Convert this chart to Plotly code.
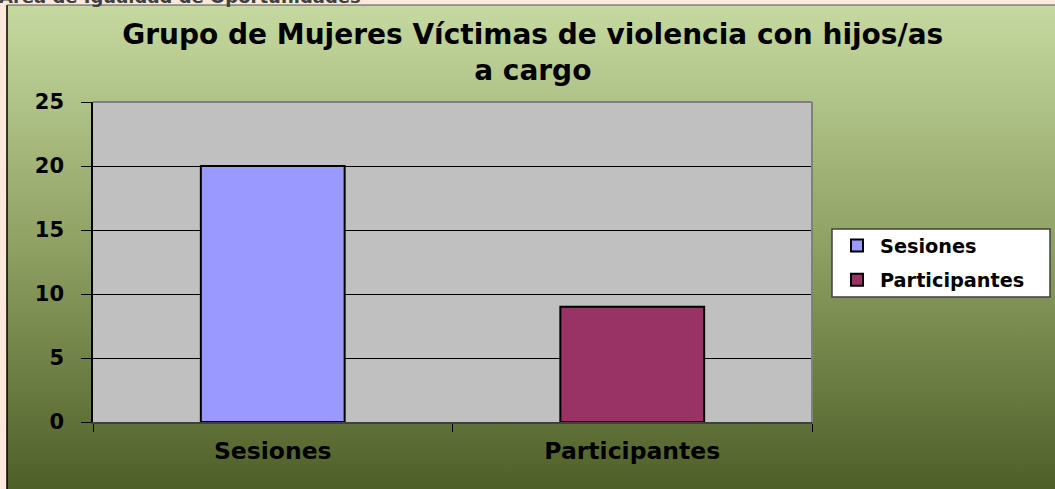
import base64
import plotly.graph_objects as go

# ---- data ----
categories = ["Sesiones", "Participantes"]
series_names = ["Sesiones", "Participantes"]
series_values = [20, 9]
series_colors = ["#9999FF", "#993366"]
y_tick_vals = [0, 5, 10, 15, 20, 25]

title_text = "Grupo de Mujeres Víctimas de violencia con hijos/as<br>a cargo"
header_text = "Área de Igualdad de Oportunidades"

W, H = 1055, 489
ML, MR, MT, MB = 93, 243, 102, 67
PW = W - ML - MR
PH = H - MT - MB

FONT = "DejaVu Sans"

# gradient background image (svg)
svg = (
    '<svg xmlns="http://www.w3.org/2000/svg" width="100" height="100" preserveAspectRatio="none">'
    '<defs><linearGradient id="g" x1="0" y1="0" x2="0" y2="1">'
    '<stop offset="0" stop-color="#C6D9A0"/>'
    '<stop offset="0.5" stop-color="#8EA062"/>'
    '<stop offset="1" stop-color="#4E6028"/>'
    '</linearGradient></defs>'
    '<rect x="0" y="0" width="100" height="100" fill="url(#g)"/></svg>'
)
svg_uri = "data:image/svg+xml;base64," + base64.b64encode(svg.encode()).decode()

def px_x(px):
    return (px - ML) / PW

def px_y(py):
    return (H - MB - py) / PH

fig = go.Figure()
for name, cat, val, col in zip(series_names, categories, series_values, series_colors):
    fig.add_trace(go.Bar(
        name=name, x=[cat], y=[val], width=0.4, legendgroup=name,
        marker=dict(color=col, line=dict(color="black", width=2)),
        hoverinfo="x+y",
    ))

frame_x0, frame_y0 = 7, 5
LEG_X0, LEG_X1, LEG_Y0, LEG_Y1 = 832, 1050, 229, 297
fig.update_layout(
    width=W, height=H,
    margin=dict(l=ML, r=MR, t=MT, b=MB),
    paper_bgcolor="#FCE9DC",
    plot_bgcolor="#C0C0C0",
    barmode="overlay",
    font=dict(family=FONT, color="black"),
    title=dict(
        text=title_text,
        font=dict(family=FONT, size=28, color="black", weight="bold"),
        x=0.505, xanchor="center", xref="container",
        y=1 - 44 / H, yanchor="top", yref="container",
    ),
    legend=dict(
        x=px_x(LEG_X0 + 2), y=px_y((LEG_Y0 + LEG_Y1) / 2), xanchor="left", yanchor="middle",
        bgcolor="rgba(0,0,0,0)", borderwidth=0,
        font=dict(family=FONT, size=19.3, color="black", weight="bold"),
        traceorder="grouped", tracegroupgap=6, itemwidth=36,
    ),
    images=[dict(
        source=svg_uri, xref="paper", yref="paper",
        x=px_x(frame_x0), y=px_y(frame_y0),
        sizex=(W - frame_x0) / PW, sizey=(H - frame_y0) / PH,
        xanchor="left", yanchor="top", sizing="stretch", layer="below",
    )],
    shapes=[
        # plot area fill
        dict(type="rect", xref="x domain", yref="y domain",
             x0=0, x1=1, y0=0, y1=1, fillcolor="#C0C0C0",
             line=dict(width=0), layer="below"),
        # frame border
        dict(type="line", xref="paper", yref="paper",
             x0=px_x(frame_x0), x1=px_x(frame_x0), y0=px_y(frame_y0), y1=px_y(H + 2),
             line=dict(color="black", width=1.5), layer="above"),
        dict(type="line", xref="paper", yref="paper",
             x0=px_x(frame_x0), x1=px_x(W + 2), y0=px_y(frame_y0), y1=px_y(frame_y0),
             line=dict(color="#555555", width=1), layer="above"),
        # plot area top / right border
        dict(type="line", xref="x domain", yref="y domain",
             x0=0, x1=1, y0=1, y1=1, line=dict(color="#808080", width=2), layer="above"),
        dict(type="line", xref="x domain", yref="y domain",
             x0=1, x1=1, y0=0, y1=1, line=dict(color="#808080", width=2), layer="above"),
        # legend box
        dict(type="rect", xref="paper", yref="paper",
             x0=px_x(LEG_X0), x1=px_x(LEG_X1), y0=px_y(LEG_Y1), y1=px_y(LEG_Y0),
             fillcolor="white", line=dict(color="#404040", width=1.5), layer="above"),
    ],
    annotations=[dict(
        text=header_text, xref="paper", yref="paper",
        x=px_x(-3), y=px_y(9), xanchor="left", yanchor="bottom",
        showarrow=False,
        font=dict(family=FONT, size=18, color="#404040", weight="bold"),
    )],
)

fig.update_xaxes(
    type="category", categoryorder="array", categoryarray=categories,
    showline=True, linecolor="#404040", linewidth=1.5,
    ticks="outside", ticklen=8, tickcolor="black", tickwidth=1,
    tickson="boundaries", ticklabelstandoff=7,
    tickfont=dict(family=FONT, size=23.5, color="black", weight="bold"),
    showgrid=False,
)
fig.update_yaxes(
    range=[0, 25], tickvals=y_tick_vals,
    showline=True, linecolor="black", linewidth=1.5,
    ticks="outside", ticklen=10, tickcolor="black", tickwidth=1,
    ticklabelstandoff=13,
    tickfont=dict(family=FONT, size=21, color="black", weight="bold"),
    showgrid=True, gridcolor="black", gridwidth=1,
    zeroline=False,
)

fig.write_html(
    "out.html",
    config={"displayModeBar": False},
    post_script="document.body.style.margin='0';document.body.style.background='#FCE9DC';",
)
